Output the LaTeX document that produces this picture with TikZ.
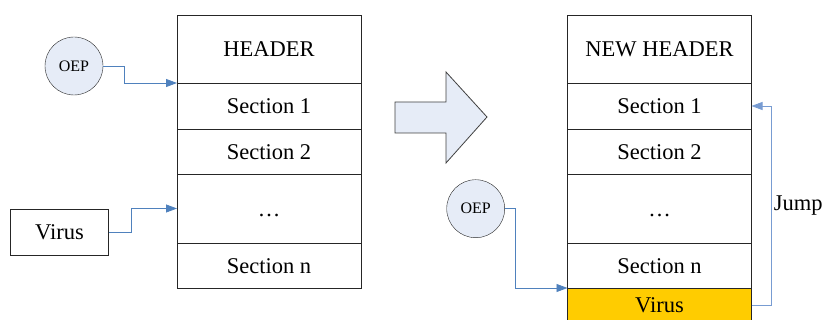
\documentclass[tikz,border=0pt]{standalone}
\usepackage{fontspec}
\setmainfont{Liberation Serif}
\usetikzlibrary{positioning,arrows.meta}
\definecolor{linkblue}{RGB}{79,129,189}
\definecolor{jumpblue}{RGB}{120,156,210}
\definecolor{paleblue}{RGB}{230,236,247}
\definecolor{virusgold}{RGB}{255,204,0}
\begin{document}
\begin{tikzpicture}[x=1pt, y=-1pt,
  every node/.style={font=\fontsize{22.5}{26}\selectfont},
  sect/.style={draw=black!85, line width=0.8pt, minimum width=184pt, inner sep=0pt, outer sep=0pt, text height=16pt, text depth=0pt},
  oep/.style={draw=black!85, fill=paleblue, circle, minimum size=58pt, inner sep=0pt, font=\fontsize{16}{18}\selectfont},
  link/.style={draw=linkblue, line width=0.8pt, -{Triangle[length=11pt,width=8pt]}}]
\useasboundingbox (0,0) rectangle (823,320);
% original file
\node[oep] (oepA) at (74,66) {OEP};
\node[draw=black!85, line width=0.8pt, minimum width=98pt, minimum height=46pt] (virA) at (59.5,232) {Virus};
\node[sect, minimum height=68pt] (hdr) at (269,49) {HEADER};
\node[sect, minimum height=46pt, below=0pt of hdr] (sec1) {Section 1};
\node[sect, minimum height=45pt, below=0pt of sec1] (sec2) {Section 2};
\node[sect, minimum height=69pt, below=0pt of sec2] (dots) {…};
\node[sect, minimum height=45pt, below=0pt of dots] (secn) {Section n};
\draw[link] (oepA.east) -- ++(21,0) |- (hdr.south west);
\draw[link] (virA.east) -- ++(22,0) |- (dots.west);
% big arrow
\draw[draw=black!75, line width=0.8pt, fill=paleblue] (395,102) -- (446,102) -- (446,72) -- (487,117) -- (446,163) -- (446,133) -- (395,133) -- cycle;
% infected file
\node[oep] (oepB) at (475.7,208.7) {OEP};
\node[sect, minimum height=68pt] (hdrB) at (659.5,49) {NEW HEADER};
\node[sect, minimum height=46pt, below=0pt of hdrB] (sec1B) {Section 1};
\node[sect, minimum height=45pt, below=0pt of sec1B] (sec2B) {Section 2};
\node[sect, minimum height=69pt, below=0pt of sec2B] (dotsB) {…};
\node[sect, minimum height=45pt, below=0pt of dotsB] (secnB) {Section n};
\node[sect, fill=virusgold, minimum height=34pt, below=0pt of secnB] (virB) {Virus};
\draw[link] (oepB.east) -- ++(10,0) |- (virB.north west);
\draw[link, draw=jumpblue] (virB.east) -- ++(20,0) |- node[pos=0.25, right, inner sep=2pt] {Jump} (sec1B.east);
\end{tikzpicture}
\end{document}
